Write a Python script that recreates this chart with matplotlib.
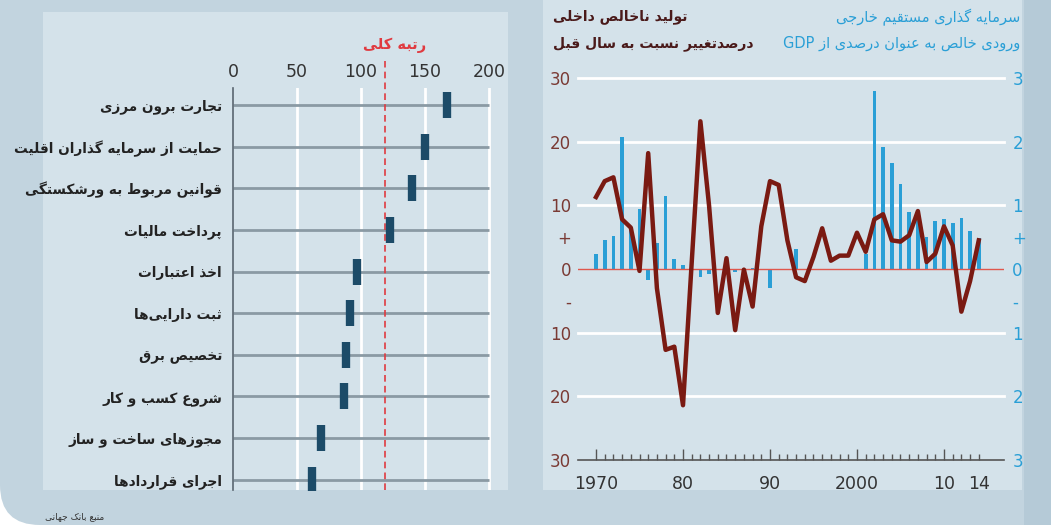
import re
import matplotlib
matplotlib.use("Agg")
import matplotlib.pyplot as plt
from matplotlib.patches import Rectangle, FancyBboxPatch

# Doing Business ranks (left panel)
indicators = [
    "تجارت برون مرزی",
    "حمایت از سرمایه گذاران اقلیت",
    "قوانین مربوط به ورشکستگی",
    "پرداخت مالیات",
    "اخذ اعتبارات",
    "ثبت دارایی\u200cها",
    "تخصیص برق",
    "شروع کسب و کار",
    "مجوزهای ساخت و ساز",
    "اجرای قراردادها",
]
ranks = [167, 150, 140, 123, 97, 91, 88, 87, 69, 62]
overall_rank = 119
rank_ticks = [0, 50, 100, 150, 200]

# GDP growth and FDI inflow (right panel)
years = list(range(1970, 2015))
gdp_growth = [11.3, 13.8, 14.4, 7.8, 6.5, -0.3, 18.2, -3.0, -12.7, -12.2,
              -21.4, 1.0, 23.2, 9.9, -6.9, 1.7, -9.6, -0.1, -5.9, 6.7,
              13.8, 13.2, 4.5, -1.3, -1.9, 1.9, 6.4, 1.3, 2.1, 2.1,
              5.7, 2.7, 7.8, 8.6, 4.5, 4.3, 5.3, 9.1, 1.1, 2.4,
              6.7, 3.7, -6.7, -1.9, 4.5]
fdi_inflow = [0.24, 0.46, 0.52, 2.08, 0.65, 0.94, -0.17, 0.41, 1.15, 0.15,
              0.06, 0.0, -0.12, -0.08, 0.0, 0.0, -0.05, 0.0, 0.02, 0.0,
              -0.30, 0.0, 0.0, 0.32, 0.0, 0.0, 0.0, 0.0, 0.0, 0.0,
              0.0, 0.24, 2.80, 1.91, 1.67, 1.34, 0.90, 0.88, 0.51, 0.75,
              0.79, 0.73, 0.80, 0.59, 0.48]
gdp_ticks = [30, 20, 10, 5, 0, -5, -10, -20, -30]
gdp_tick_labels = ["30", "20", "10", "+", "0", "-", "10", "20", "30"]
fdi_ticks = [3, 2, 1, 0.5, 0, -0.5, -1, -2, -3]
fdi_tick_labels = ["3", "2", "1", "+", "0", "-", "1", "2", "3"]
year_ticks = [1970, 1980, 1990, 2000, 2010]
year_labels = ["1970", "80", "90", "2000", "10"]

# no bidi/shaping in matplotlib, so do Persian letter joining by hand
DUAL = {'ب': 0xFE8F, 'ت': 0xFE95, 'ث': 0xFE99, 'ج': 0xFE9D, 'ح': 0xFEA1, 'خ': 0xFEA5,
        'س': 0xFEB1, 'ش': 0xFEB5, 'ص': 0xFEB9, 'ض': 0xFEBD, 'ط': 0xFEC1, 'ظ': 0xFEC5,
        'ع': 0xFEC9, 'غ': 0xFECD, 'ف': 0xFED1, 'ق': 0xFED5, 'ل': 0xFEDD, 'م': 0xFEE1,
        'ن': 0xFEE5, 'ه': 0xFEE9, 'ي': 0xFEF1, 'پ': 0xFB56, 'چ': 0xFB7A, 'ک': 0xFB8E,
        'گ': 0xFB92, 'ی': 0xFBFC}
RIGHT = {'ا': 0xFE8D, 'آ': 0xFE81, 'د': 0xFEA9, 'ذ': 0xFEAB, 'ر': 0xFEAD, 'ز': 0xFEAF,
         'و': 0xFEED, 'ژ': 0xFB8A}


def fa(text):
    out = []
    i = 0
    while i < len(text):
        ch = text[i]
        joins_prev = i > 0 and text[i - 1] in DUAL
        if ch == 'ل' and i + 1 < len(text) and text[i + 1] == 'ا':
            out.append(chr(0xFEFC if joins_prev else 0xFEFB))
            i += 2
            continue
        nxt = text[i + 1] if i + 1 < len(text) else ''
        joins_next = nxt in DUAL or nxt in RIGHT
        if ch in DUAL:
            out.append(chr(DUAL[ch] + [[0, 2], [1, 3]][joins_prev][joins_next]))
        elif ch in RIGHT:
            out.append(chr(RIGHT[ch] + (1 if joins_prev else 0)))
        elif ch != '\u200c':
            out.append(ch)
        i += 1
    visual = ''.join(reversed(out))
    return re.sub(r'[A-Za-z0-9]+', lambda m: m.group(0)[::-1], visual)


W, H = 1051, 525


def box(l, t, r, b):
    return [l / W, 1 - b / H, (r - l) / W, (b - t) / H]


plt.rcParams['font.family'] = ['DejaVu Sans']
fig = plt.figure(figsize=(W / 100, H / 100), dpi=100, facecolor='white')

# backgrounds
fig.add_artist(FancyBboxPatch((0, 0), 1300, 700, boxstyle="round,pad=0,rounding_size=40",
                              transform=None, facecolor='#c2d4df', edgecolor='none', zorder=-10))
fig.add_artist(Rectangle((1024 / W, 0), 1, 1, transform=fig.transFigure,
                         facecolor='#b5cad7', edgecolor='none', zorder=-9))
for l, t, r, b in [(43, 12, 508, 490), (543, 0, 1022, 490)]:
    fig.add_artist(Rectangle((l / W, 1 - b / H), (r - l) / W, (b - t) / H,
                             transform=fig.transFigure, facecolor='#d4e2ea',
                             edgecolor='none', zorder=-8))

# ---- left panel ----
ax = fig.add_axes(box(233, 88, 491, 490))
ax.set_facecolor('none')
rows = list(range(len(indicators)))
ax.set_xlim(0, 201.5)
ax.set_ylim(9.25, -0.41)
for v in rank_ticks[1:]:
    ax.axvline(v, color='white', lw=2, zorder=0)
ax.hlines(rows, 0, 200, color='#8a9aa4', lw=2, zorder=1)
ax.vlines(overall_rank, 9.25, -1.05, color='#e03a40', lw=1.2, ls=(0, (4, 2.5)),
          zorder=2, clip_on=False)
ax.plot(ranks, rows, ls='none', marker='|', markersize=19, markeredgewidth=6,
        color='#1c4b68', zorder=3)
ax.xaxis.tick_top()
ax.set_xticks(rank_ticks)
ax.set_xticklabels([str(v) for v in rank_ticks])
ax.set_yticks(rows)
ax.set_yticklabels([fa(s) for s in indicators], fontweight='bold')
ax.tick_params(axis='x', length=0, pad=5, labelsize=12.5, labelcolor='#333333')
ax.tick_params(axis='y', length=0, pad=8, labelsize=9.8, labelcolor='#222222')
for s in ['top', 'right', 'bottom']:
    ax.spines[s].set_visible(False)
ax.spines['left'].set_color('#5a6670')
ax.spines['left'].set_linewidth(1.2)

fig.text(395 / W, 1 - 45 / H, fa("رتبه کلی"), color='#e03a40', fontsize=10.5,
         fontweight='bold', ha='center', va='center')
fig.text(45 / W, 1 - 517 / H, fa("منبع بانک جهانی"), color='#333333', fontsize=6.5,
         ha='left', va='center')

# ---- right panel ----
ax_f = fig.add_axes(box(578, 78, 1004, 460))
ax_f.set_facecolor('none')
ax_f.set_xlim(1967.93, 2016.9)
ax_f.set_ylim(-3, 3)
for v in [-2, -1, 1, 2, 3]:
    ax_f.axhline(v, color='white', lw=2, zorder=0, clip_on=False)
ax_f.bar(years, fdi_inflow, width=0.42, color='#2a9fd6', zorder=2)
ax_f.axhline(0, color='#e0574c', lw=1, zorder=3)
ax_f.set_xticks(year_ticks)
ax_f.set_xticklabels(year_labels)
ax_f.set_xticks(years, minor=True)
ax_f.set_xticklabels(['14' if y == 2014 else '' for y in years], minor=True)
ax_f.tick_params(axis='x', which='both', direction='in', color='#555555', pad=11,
                 labelsize=12.5, labelcolor='#333333', width=1)
ax_f.tick_params(axis='x', which='major', length=8)
ax_f.tick_params(axis='x', which='minor', length=4)
for s in ['top', 'right', 'left']:
    ax_f.spines[s].set_visible(False)
ax_f.spines['bottom'].set_color('#555555')
ax_f.spines['bottom'].set_linewidth(1.2)

ax_g = ax_f.twinx()
ax_g.set_ylim(-30, 30)
ax_g.plot(years, gdp_growth, color='#7a1a12', lw=3.2, zorder=4)
ax_g.yaxis.tick_left()
ax_g.set_yticks(gdp_ticks)
ax_g.set_yticklabels(gdp_tick_labels)
ax_g.tick_params(axis='y', length=0, pad=5, labelsize=12, labelcolor='#7a3a34')
for s in ax_g.spines.values():
    s.set_visible(False)

# twinx moved the FDI ticks to the left, put them back on the right
ax_f.yaxis.tick_right()
ax_f.set_yticks(fdi_ticks)
ax_f.set_yticklabels(fdi_tick_labels)
ax_f.tick_params(axis='y', length=0, pad=6, labelsize=12, labelcolor='#2a9fd6')

fig.text(553 / W, 1 - 17 / H, fa("تولید ناخالص داخلی"), color='#4a1a1a', fontsize=10,
         fontweight='bold', ha='left', va='center')
fig.text(553 / W, 1 - 44 / H, fa("درصدتغییر نسبت به سال قبل"), color='#4a1a1a', fontsize=10,
         fontweight='bold', ha='left', va='center')
fig.text(1020 / W, 1 - 17 / H, fa("سرمایه گذاری مستقیم خارجی"), color='#2a9fd6', fontsize=10.5,
         ha='right', va='center')
fig.text(1020 / W, 1 - 43 / H, fa("ورودی خالص به عنوان درصدی از GDP"), color='#2a9fd6',
         fontsize=10.5, ha='right', va='center')

fig.savefig("out.png", dpi=100, facecolor=fig.get_facecolor())
